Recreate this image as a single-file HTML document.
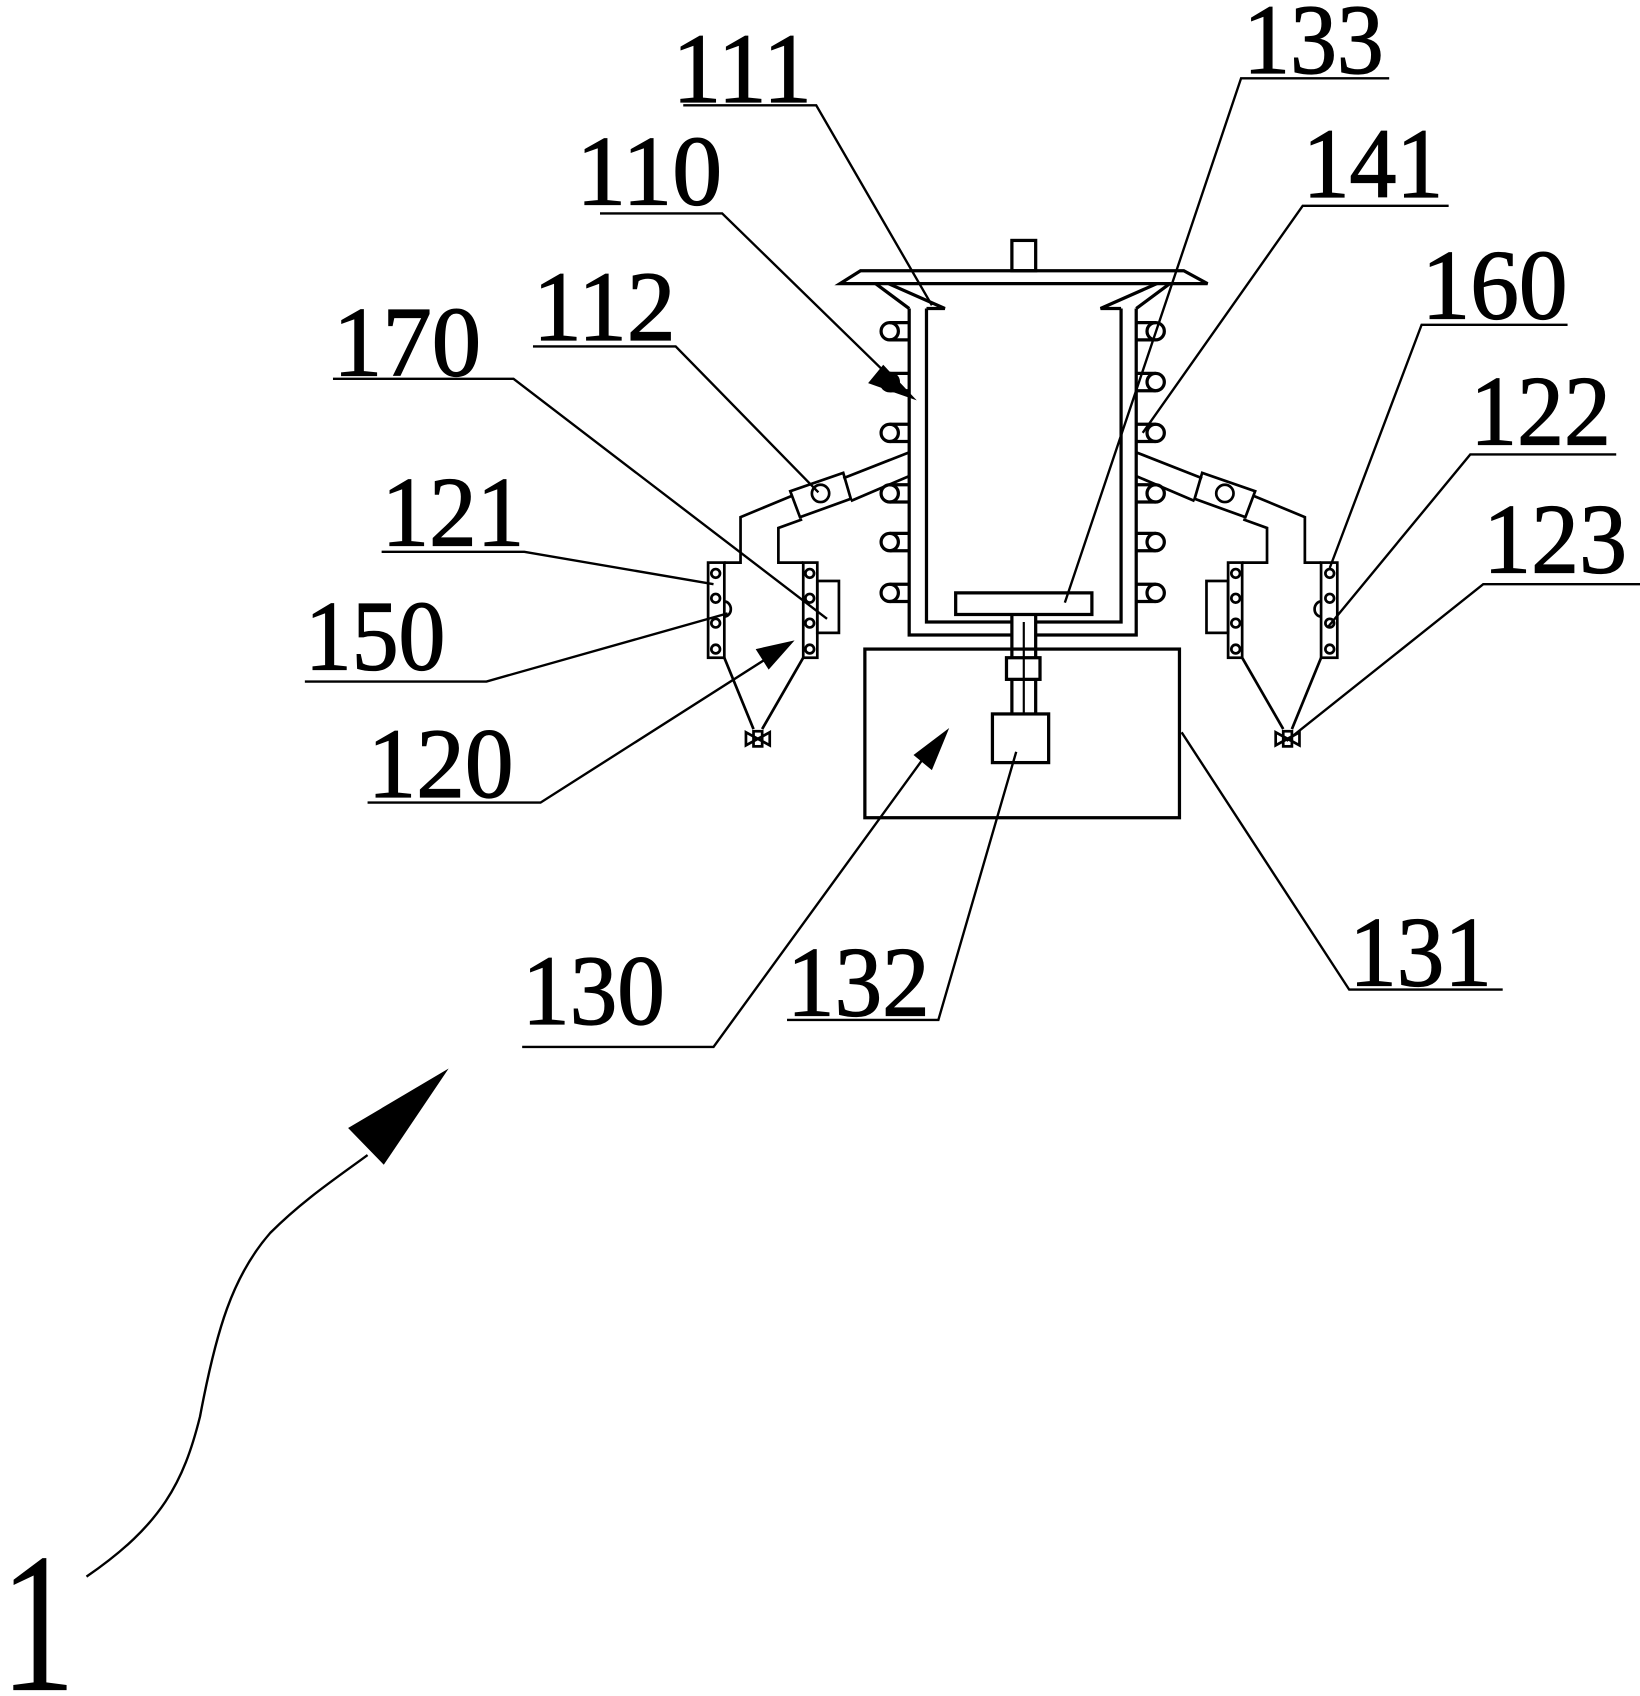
<!DOCTYPE html>
<html><head><meta charset="utf-8"><style>
html,body{margin:0;padding:0;background:#fff;}
svg{display:block;}
text{font-family:"Liberation Serif",serif;fill:#000;}
</style></head><body>
<svg width="1640" height="1696" viewBox="0 0 1517 1568" xmlns="http://www.w3.org/2000/svg">
<g fill="none" stroke="#000" stroke-width="3" stroke-linejoin="miter">
<rect x="936" y="222" width="22" height="28"/>
<polygon points="796,250 1095,250 1117,262 777,262"/>
<polyline points="841,285 841,587 936,587"/>
<polyline points="958,587 1051,587 1051,285"/>
<polyline points="857,285 857,575 936,575"/>
<polyline points="958,575 1037,575 1037,285"/>
<polyline points="810,262 841,285"/>
<polyline points="822,262 874,285 857,285"/>
<polyline points="1082,262 1051,285"/>
<polyline points="1070,262 1018,285 1037,285"/>
<rect x="884" y="548" width="126" height="20"/>
<line x1="936" y1="568" x2="936" y2="608"/>
<line x1="958" y1="568" x2="958" y2="608"/>
<rect x="931" y="608" width="31" height="20"/>
<line x1="936" y1="628" x2="936" y2="660"/>
<line x1="958" y1="628" x2="958" y2="660"/>
<line x1="947" y1="575" x2="947" y2="660" stroke-width="2"/>
<rect x="918" y="660" width="52" height="45"/>
<rect x="800" y="600" width="291" height="156"/>
</g>
<g id="side" fill="none" stroke="#000" stroke-width="3">
<g stroke-width="3">
<circle cx="823" cy="306" r="8"/><line x1="823" y1="298" x2="841" y2="298"/><line x1="823" y1="314" x2="841" y2="314"/>
<circle cx="823" cy="353" r="8"/><line x1="823" y1="345" x2="841" y2="345"/><line x1="823" y1="361" x2="841" y2="361"/>
<circle cx="823" cy="400" r="8"/><line x1="823" y1="392" x2="841" y2="392"/><line x1="823" y1="408" x2="841" y2="408"/>
<circle cx="823" cy="456" r="8"/><line x1="823" y1="448" x2="841" y2="448"/><line x1="823" y1="464" x2="841" y2="464"/>
<circle cx="823" cy="501" r="8"/><line x1="823" y1="493" x2="841" y2="493"/><line x1="823" y1="509" x2="841" y2="509"/>
<circle cx="823" cy="548" r="8"/><line x1="823" y1="540" x2="841" y2="540"/><line x1="823" y1="556" x2="841" y2="556"/>
</g>
<g stroke-width="2.5">
<polyline points="841,418 780,442"/>
<polyline points="841,440 787,463"/>
<polygon points="780,437 787,461 740,478 731,454"/>
<circle cx="759" cy="456" r="8"/>
<polyline points="733,458 685,478 685,520 670,520"/>
<polyline points="742,480 720,488 720,520 743,520"/>
<rect x="655" y="520" width="15" height="88"/>
<rect x="743" y="520" width="13" height="88"/>
<rect x="756" y="537" width="20" height="48"/>
<path d="M670,556 a6,7 0 0 1 0,14"/>
<circle cx="662" cy="530" r="4"/><circle cx="662" cy="553" r="4"/><circle cx="662" cy="576" r="4"/><circle cx="662" cy="600" r="4"/>
<circle cx="749" cy="530" r="4"/><circle cx="749" cy="553" r="4"/><circle cx="749" cy="576" r="4"/><circle cx="749" cy="600" r="4"/>
<line x1="670" y1="608" x2="697" y2="674"/>
<line x1="743" y1="608" x2="705" y2="674"/>
<path d="M690,677 L712,689 L712,677 L690,689 Z"/>
<rect x="697" y="676" width="8" height="14"/>
</g>
</g>
<use href="#side" transform="translate(1892,0) scale(-1,1)"/>
<g fill="none" stroke="#000" stroke-width="2.2">
<polyline points="632,97 755,97 862,282"/>
<polyline points="1285,72 1148,72 985,557"/>
<polyline points="555,197 668,197 830,355"/>
<polyline points="1340,190 1205,190 1057,400"/>
<polyline points="1450,300 1315,300 1230,525"/>
<polyline points="493,320 625,320 757,455"/>
<polyline points="308,350 475,350 765,572"/>
<polyline points="1495,420 1360,420 1228,580"/>
<polyline points="353,510 485,510 660,540"/>
<polyline points="1517,540 1372,540 1190,685"/>
<polyline points="282,630 450,630 673,567"/>
<polyline points="340,742 500,742 715,605"/>
<polyline points="483,968 660,968 860,693"/>
<polyline points="728,943 868,943 940,695"/>
<polyline points="1390,915 1248,915 1093,677"/>
<path d="M80,1458 C150,1410 170,1370 185,1310 C200,1230 215,1180 250,1140 C280,1110 310,1090 340,1068"/>
</g>
<g fill="#000" stroke="none">
<polygon points="848,370 803,354 817,337"/>
<polygon points="735,592 699,600 711,619"/>
<polygon points="878,673 845,698 862,712"/>
<polygon points="415,988 322,1043 355,1077"/>
</g>
<g font-size="92" stroke="#000" stroke-width="1.2">
<text x="622" y="94" textLength="129" lengthAdjust="spacingAndGlyphs">111</text>
<text x="1150" y="67" textLength="130" lengthAdjust="spacingAndGlyphs">133</text>
<text x="533" y="189" textLength="135" lengthAdjust="spacingAndGlyphs">110</text>
<text x="1205" y="182" textLength="130" lengthAdjust="spacingAndGlyphs">141</text>
<text x="1315" y="294" textLength="135" lengthAdjust="spacingAndGlyphs">160</text>
<text x="493" y="314" textLength="132" lengthAdjust="spacingAndGlyphs">112</text>
<text x="308" y="347" textLength="137" lengthAdjust="spacingAndGlyphs">170</text>
<text x="1360" y="411" textLength="130" lengthAdjust="spacingAndGlyphs">122</text>
<text x="353" y="504" textLength="132" lengthAdjust="spacingAndGlyphs">121</text>
<text x="1372" y="529" textLength="133" lengthAdjust="spacingAndGlyphs">123</text>
<text x="282" y="619" textLength="130" lengthAdjust="spacingAndGlyphs">150</text>
<text x="340" y="737" textLength="135" lengthAdjust="spacingAndGlyphs">120</text>
<text x="483" y="947" textLength="132" lengthAdjust="spacingAndGlyphs">130</text>
<text x="728" y="939" textLength="132" lengthAdjust="spacingAndGlyphs">132</text>
<text x="1248" y="911" textLength="132" lengthAdjust="spacingAndGlyphs">131</text>
</g>
<text x="0" y="1563" font-size="185" textLength="70" lengthAdjust="spacingAndGlyphs">1</text>
</svg>
</body></html>
